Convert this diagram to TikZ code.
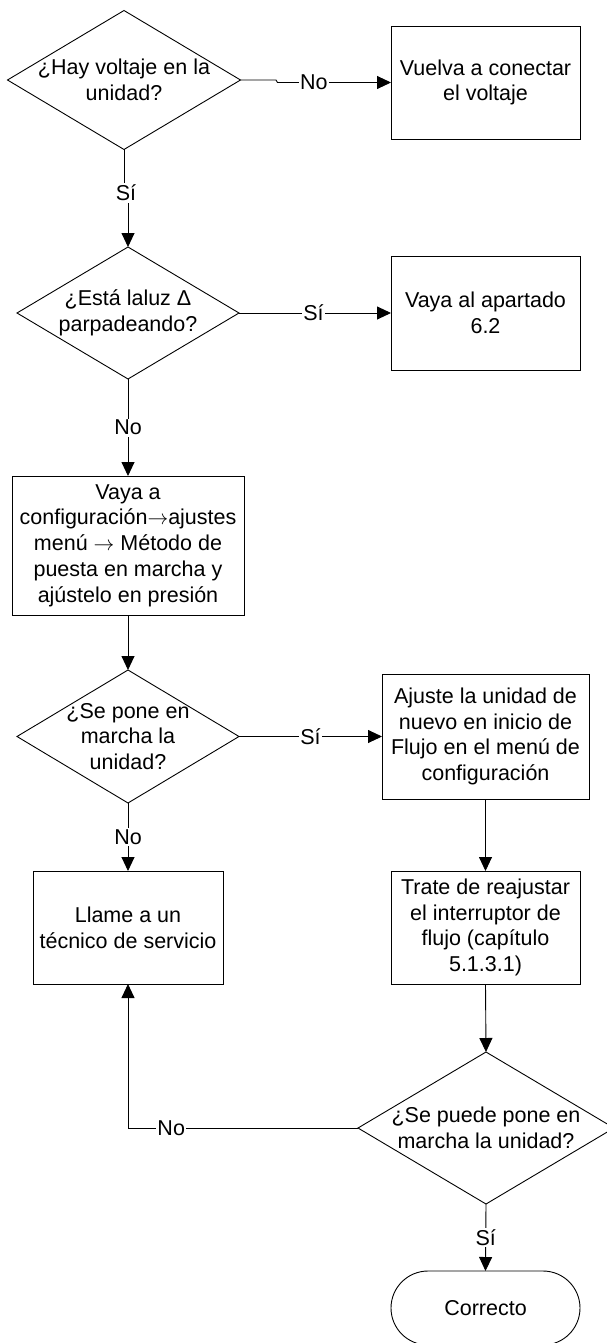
\documentclass[tikz,border=0pt]{standalone}
\usepackage{fontspec}
\setmainfont{Liberation Sans}
\newcommand{\rarr}{\ensuremath{\rightarrow}}
\usetikzlibrary{shapes.geometric,arrows.meta}
\begin{document}
\begin{tikzpicture}[x=1pt,y=-1pt,
  every node/.style={font=\fontsize{21.5}{25.7}\selectfont},
  box/.style={draw, rectangle, align=center, inner sep=0pt, outer sep=0pt, line width=0.9pt},
  dec/.style={draw, diamond, inner sep=0pt, outer sep=0pt, line width=0.9pt},
  term/.style={draw, rectangle, rounded corners=37pt, align=center, inner sep=0pt, outer sep=0pt, line width=0.9pt},
  lbl/.style={fill=white, inner sep=1.5pt},
  conn/.style={line width=0.9pt, -{Triangle[length=14pt,width=13pt]}}]
\useasboundingbox (0,0) rectangle (606,1343);
\fill[white] (0,0) rectangle (606,1343);

% decisions
\node[dec, minimum width=233pt, minimum height=139pt,
  label={[align=center]center:{¿Hay voltaje en la\\unidad?}}] (d1) at (124,80) {};
\node[dec, minimum width=222pt, minimum height=132pt,
  label={[align=center]center:{¿Está laluz Δ\\parpadeando?}}] (d2) at (128,313) {};
\node[dec, minimum width=222pt, minimum height=133pt,
  label={[align=center]center:{¿Se pone en\\marcha la\\unidad?}}] (d3) at (128,736.5) {};
\node[dec, minimum width=256pt, minimum height=152pt,
  label={[align=center]center:{¿Se puede pone en\\marcha la unidad?}}] (d4) at (486,1128) {};

% boxes
\node[box, minimum width=189pt, minimum height=113pt] (b1) at (485.5,82.5) {Vuelva a conectar\\el voltaje};
\node[box, minimum width=189pt, minimum height=114pt] (b2) at (485.5,313) {Vaya al apartado\\6.2};
\node[box, minimum width=232pt, minimum height=139pt] (b3) at (128,545.5) {Vaya a\\configuración\rarr ajustes\\menú \rarr{} Método de\\puesta en marcha y\\ajústelo en presión};
\node[box, minimum width=207pt, minimum height=125pt] (b5) at (485.5,736.5) {Ajuste la unidad de\\nuevo en inicio de\\Flujo en el menú de\\configuración};
\node[box, minimum width=190pt, minimum height=113pt] (b4) at (128,927.5) {Llame a un\\técnico de servicio};
\node[box, minimum width=189pt, minimum height=113pt] (b6) at (485.5,927.5) {Trate de reajustar\\el interruptor de\\flujo (capítulo\\5.1.3.1)};
\node[term, minimum width=189pt, minimum height=74pt] (t) at (485.5,1308) {Correcto};

% connectors
\draw[conn] (d1.east) -- (276,80) -- (277.5,82.5) -- node[lbl,pos=0.32]{No} (b1.west);
\draw[conn] (d1.south) -- (124,193) -| node[lbl,pos=0.25]{Sí} (d2.north);
\draw[conn] (d2.east) -- node[lbl,pos=0.49]{Sí} (b2.west);
\draw[conn] (d2.south) -- node[lbl]{No} (b3.north);
\draw[conn] (b3.south) -- (d3.north);
\draw[conn] (d3.east) -- node[lbl]{Sí} (b5.west);
\draw[conn] (d3.south) -- node[lbl]{No} (b4.north);
\draw[conn] (b5.south) -- (b6.north);
\draw[conn] (b6.south) -- (d4.north);
\draw[conn] (d4.west) -| node[lbl,pos=0.406]{No} (b4.south);
\draw[conn] (d4.south) -- node[lbl]{Sí} (t.north);
\end{tikzpicture}
\end{document}
